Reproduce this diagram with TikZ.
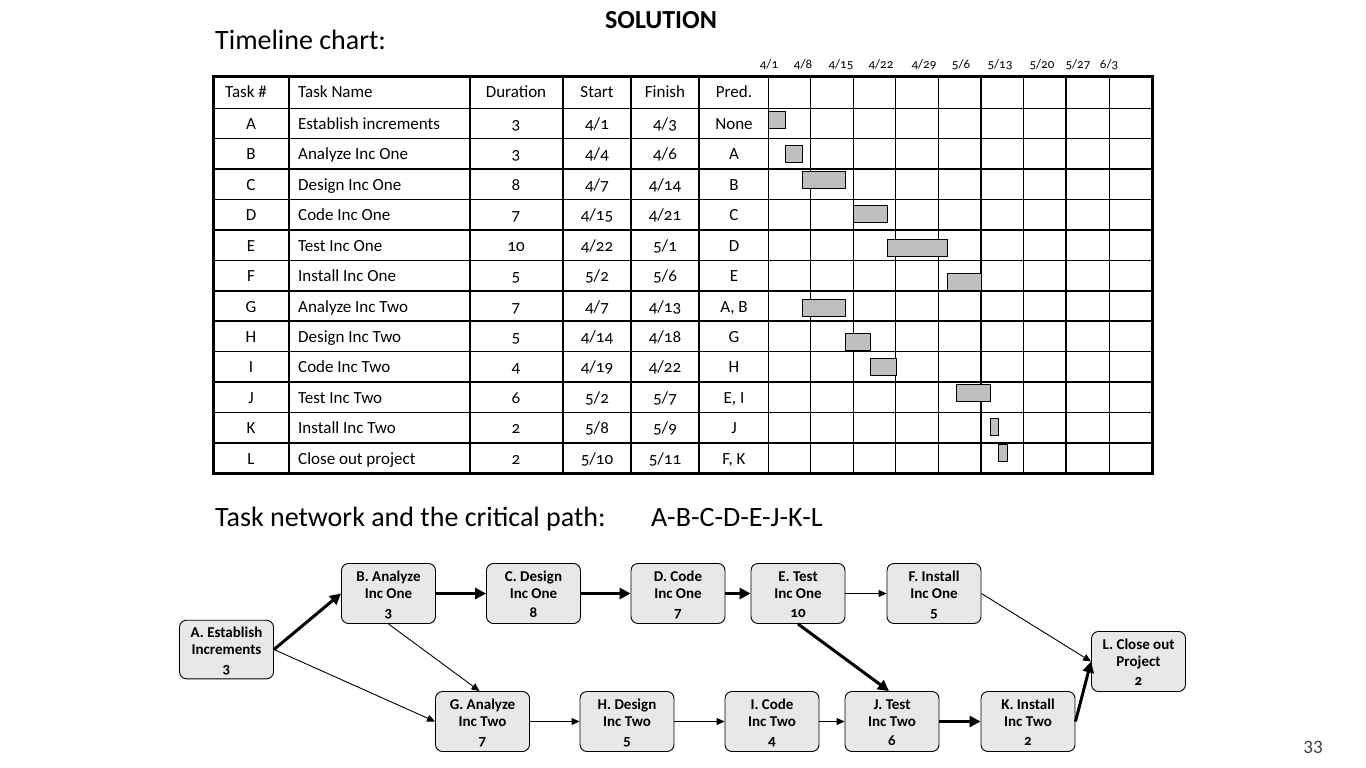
\documentclass[tikz,border=0pt]{standalone}
\usepackage{fontspec}
\setmainfont{Carlito}[Numbers=OldStyle]
\newfontfamily\lining{Carlito}
\usetikzlibrary{arrows.meta}
\newcommand{\topstrut}{\rule{0pt}{17.5pt}}
\begin{document}
\begin{tikzpicture}[x=1pt,y=-1pt,
  tbl/.style={font=\fontsize{17}{20}\selectfont, inner sep=0pt, anchor=base},
  tblw/.style={font=\fontsize{17}{20}\selectfont, inner sep=0pt, anchor=base west},
  datelbl/.style={font=\fontsize{13}{15}\selectfont, inner sep=0pt, anchor=base},
  bar/.style={draw=black, line width=1pt, fill=black!25},
  task/.style={draw=black, line width=0.9pt, fill=black!9, rounded corners=7pt,
    minimum width=94pt, minimum height=60pt, align=center, inner sep=0pt,
    font=\fontsize{15}{17}\selectfont\bfseries},
  thin/.style={line width=0.9pt, -{Triangle[length=8pt,width=7pt]}},
  thick/.style={line width=3pt, -{Triangle[length=11pt,width=11pt]}}]
\useasboundingbox (0,0) rectangle (1366,768);
\fill[white] (0,0) rectangle (1366,768);

% titles
\node[anchor=base, font=\fontsize{26}{30}\selectfont\bfseries, inner sep=0pt] (sol) at (661,29) {SOLUTION};
\node[anchor=base west, font=\fontsize{28}{32}\selectfont, inner sep=0pt] (tl) at (215,50) {Timeline chart:};
\node[anchor=base west, font=\fontsize{28}{32}\selectfont, inner sep=0pt] (tn) at (215,526) {Task network and the critical path:};
\node[anchor=base west, font=\fontsize{28}{32}\selectfont, inner sep=0pt] (cp) at (651,526) {A-B-C-D-E-J-K-L};
\node[anchor=base, font=\fontsize{19}{22}\selectfont\lining, text=black!75, inner sep=0pt] (pg) at (1313,753) {33};

% table grid
\foreach \y in {108.3,138.7,169.1,199.6,230,260.4,290.8,321.2,351.7,382.1,412.5,442.9}
  \draw[line width=1.5pt] (213,\y) -- (1152,\y);
\foreach \x in {289,470,563,631,699,768.3,810.3,853.3,895.7,938.3,981,1023.3,1066,1109.3}
  \draw[line width=1.5pt] (\x,77) -- (\x,473.5);
\draw[line width=3pt] (213,77) rectangle (1152,473.5);

% dates
\foreach \lab/\x in {{4/1}/769,{4/8}/803,{4/15}/841,{4/22}/881,{4/29}/924,{5/6}/961,{5/13}/1000,{5/20}/1042,{5/27}/1078,{6/3}/1109}
  \node[datelbl] at (\x,69) {\lab};

% header
\node[tbl] (h1) at (246,98) {Task \#};
\node[tblw] (h2) at (298,98) {Task Name};
\node[tbl] (h3) at (516,98) {Duration};
\node[tbl] (h4) at (597,98) {Start};
\node[tbl] (h5) at (665,98) {Finish};
\node[tbl] (h6) at (734,98) {Pred.};

% rows
\foreach \i/\t/\n/\d/\s/\f/\p in {
  0/A/Establish increments/3/{4/1}/{4/3}/None,
  1/B/Analyze Inc One/3/{4/4}/{4/6}/A,
  2/C/Design Inc One/8/{4/7}/{4/14}/B,
  3/D/Code Inc One/7/{4/15}/{4/21}/C,
  4/E/Test Inc One/10/{4/22}/{5/1}/D,
  5/F/Install Inc One/5/{5/2}/{5/6}/E,
  6/G/Analyze Inc Two/7/{4/7}/{4/13}/{A, B},
  7/H/Design Inc Two/5/{4/14}/{4/18}/G,
  8/I/Code Inc Two/4/{4/19}/{4/22}/H,
  9/J/Test Inc Two/6/{5/2}/{5/7}/{E, I},
  10/K/Install Inc Two/2/{5/8}/{5/9}/J,
  11/L/Close out project/2/{5/10}/{5/11}/{F, K}} {
  \pgfmathsetmacro\yb{129.5+30.42*\i}
  \node[tbl] at (251,\yb) {\t};
  \node[tblw] at (298,\yb) {\n};
  \node[tbl] at (516,\yb) {\d};
  \node[tbl] at (597,\yb) {\s};
  \node[tbl] at (665,\yb) {\f};
  \node[tbl] at (734,\yb) {\p};
}

% gantt bars
\draw[bar] (768.3,111.3) rectangle (785.7,128.7);
\draw[bar] (785.3,145.3) rectangle (802.7,162.3);
\draw[bar] (802.3,171) rectangle (845.7,188.3);
\draw[bar] (853.3,205.3) rectangle (887.7,222.3);
\draw[bar] (887.3,239.3) rectangle (947.7,256.3);
\draw[bar] (947.3,273.3) rectangle (981.3,290.7);
\draw[bar] (802.3,299.3) rectangle (845.7,316.3);
\draw[bar] (845.3,333.3) rectangle (870.7,350.3);
\draw[bar] (870.3,358.3) rectangle (896.7,375.3);
\draw[bar] (956.3,384.3) rectangle (990.7,401.3);
\draw[bar] (990.3,418.3) rectangle (998.7,435.3);
\draw[bar] (998.3,444.3) rectangle (1007.7,461.3);

% network nodes
\node[task, minimum height=54pt] (A) at (226.5,649.5) {\topstrut A. Establish\\\strut Increments\\[2pt]\strut 3};
\node[task] (B) at (388.5,593.5) {\topstrut B. Analyze\\\strut Inc One\\[2pt]\strut 3};
\node[task] (C) at (533.5,593.5) {\topstrut C. Design\\\strut Inc One\\[2pt]\strut 8};
\node[task] (D) at (678,593.5) {\topstrut D. Code\\\strut Inc One\\[2pt]\strut 7};
\node[task] (E) at (798,593.5) {\topstrut E. Test\\\strut Inc One\\[2pt]\strut 10};
\node[task] (F) at (934,593.5) {\topstrut F. Install\\\strut Inc One\\[2pt]\strut 5};
\node[task] (G) at (482.5,721.5) {\topstrut G. Analyze\\\strut Inc Two\\[2pt]\strut 7};
\node[task] (H) at (627,721.5) {\topstrut H. Design\\\strut Inc Two\\[2pt]\strut 5};
\node[task] (I) at (772,721.5) {\topstrut I. Code\\\strut Inc Two\\[2pt]\strut 4};
\node[task] (J) at (892,721.5) {\topstrut J. Test\\\strut Inc Two\\[2pt]\strut 6};
\node[task] (K) at (1028,721.5) {\topstrut K. Install\\\strut Inc Two\\[2pt]\strut 2};
\node[task] (L) at (1138.5,661.5) {\topstrut L. Close out\\\strut Project\\[2pt]\strut 2};

% connectors
\draw[thick] (A.east) -- (B.west);
\draw[thin] (A.east) -- (G.west);
\draw[thin] (B.south) -- ([xshift=-3pt]G.north);
\draw[thick] (B.east) -- (C.west);
\draw[thick] (C.east) -- (D.west);
\draw[thick] (D.east) -- (E.west);
\draw[thin] (E.east) -- (F.west);
\draw[thick] (E.south) -- ([xshift=-3pt]J.north);
\draw[thin] (F.east) -- (L.west);
\draw[thin] (G.east) -- (H.west);
\draw[thin] (H.east) -- (I.west);
\draw[thin] (I.east) -- (J.west);
\draw[thick] (J.east) -- (K.west);
\draw[thick] (K.east) -- (L.west);
\end{tikzpicture}
\end{document}
